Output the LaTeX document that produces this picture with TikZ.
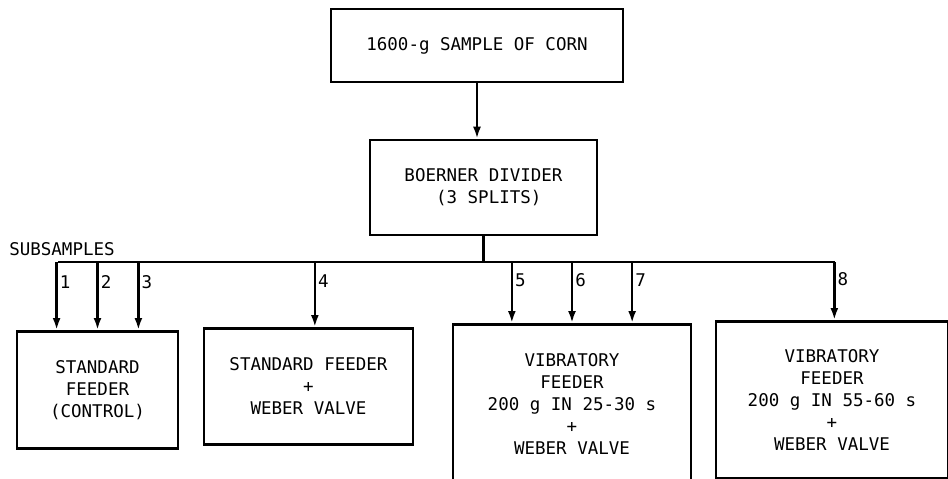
\documentclass[tikz,border=0pt]{standalone}
\usepackage{fontspec}
\setmonofont{DejaVu Sans Mono}
\usetikzlibrary{arrows.meta,positioning,calc}

\begin{document}
\begin{tikzpicture}[
    x=1pt, y=-1pt,
    font=\ttfamily\fontsize{17.5}{22}\selectfont,
    >={Latex[length=12pt,width=8pt]},
    line width=2.6pt,
    box/.style = {draw, line width=2.6pt, align=center, inner sep=2pt},
    bus/.style = {draw, line width=2.6pt},
    sig/.style = {draw, line width=2.6pt, ->},
    num/.style = {anchor=west, inner sep=2pt, pos=0.3},
  ]
  \useasboundingbox (0,0) rectangle (948,479);

  % --- Source and divider ----------------------------------------------
  \node[box, minimum width=292pt, minimum height=73pt] (corn)
    at (477,45.5) {1600-g SAMPLE OF CORN};
  \node[box, minimum width=227pt, minimum height=95pt] (boerner)
    at (483.5,187.5) {BOERNER DIVIDER\\\ (3 SPLITS)};
  \draw[sig] (corn.south) -- (corn.south |- boerner.north);

  % --- Subsample bus ---------------------------------------------------
  \coordinate (busL) at (58,262);
  \coordinate (busR) at (835,262);
  \draw[bus] (busL) -- (busR);
  \draw[bus] (boerner.south) -- (boerner.south |- busL);
  \node[anchor=base west, inner sep=0pt] (subs) at (8,255) {SUBSAMPLES};

  % --- Feeders ---------------------------------------------------------
  \node[box, anchor=north, minimum width=161pt, minimum height=117pt] (std)
    at (97.5,330) {STANDARD\\FEEDER\\(CONTROL)};
  \node[box, anchor=north, minimum width=209pt, minimum height=116pt] (weber)
    at (308.5,327) {STANDARD FEEDER\\+\\WEBER VALVE};
  \node[box, anchor=north, minimum width=238pt, minimum height=160pt] (vib)
    at (572,323) {VIBRATORY\\FEEDER\\200 g IN 25-30 s\\+\\WEBER VALVE};
  \node[box, anchor=north, minimum width=232pt, minimum height=157pt] (slow)
    at (832,320) {VIBRATORY\\FEEDER\\200 g IN 55-60 s\\+\\WEBER VALVE};

  % Bus drops to each feeder
  \foreach \n/\f/\l in {std/0.25/1, std/0.5/2, std/0.75/3, weber/0.53/4,
                        vib/0.25/5, vib/0.5/6, vib/0.75/7, slow/0.51/8}{
    \path ($(\n.north west)!\f!(\n.north east)$) coordinate (tap);
    \draw[sig] (tap |- busL) -- node[num] {\l} (tap);
  }

\end{tikzpicture}
\end{document}
